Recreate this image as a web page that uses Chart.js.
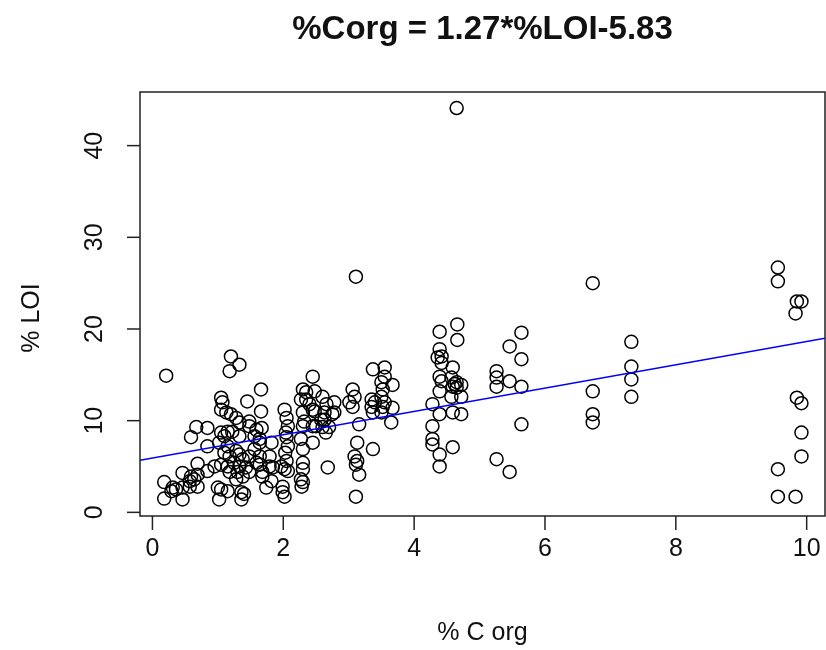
<!DOCTYPE html>
<html>
<head>
<meta charset="utf-8">
<script src="https://cdn.jsdelivr.net/npm/chart.js@4"></script>
<style>
  body { margin: 0; background: #fff; }
  #wrap { width: 826px; height: 650px; }
</style>
</head>
<body>
<div id="wrap"><canvas id="scatterChart" width="826" height="650"></canvas></div>
<script>
// =========================
// DATA
// =========================
const corg = [
  0.21, 0.18, 0.18, 0.29, 0.31, 0.36, 0.46, 0.46, 0.46, 0.57, 0.57, 0.59, 0.59, 0.64, 0.67, 0.69, 0.69, 0.69, 0.84, 0.84, 0.84, 0.95,
  1.02, 1.00, 1.05, 1.15, 1.02, 1.05, 1.10, 1.15, 1.22, 1.15, 1.05, 1.07, 1.05, 1.13, 1.20, 1.28, 1.33, 1.20, 1.33, 1.18, 1.33,
  1.10, 1.18, 1.28, 1.33, 1.38, 1.25, 1.15, 1.05, 1.33, 1.43, 1.30, 1.18, 1.38, 1.48, 1.28, 1.36, 1.36, 1.40, 1.45, 1.48, 1.48, 1.48,
  1.56, 1.59, 1.64, 1.56, 1.64, 1.59, 1.79, 1.79, 1.68, 1.82, 1.74, 1.68, 1.66, 1.66, 1.67, 1.64, 1.82, 1.64, 1.84,
  2.02, 2.05, 2.07, 2.04, 2.05, 2.07, 2.03, 2.05, 1.97, 2.07, 2.02, 1.99, 1.99, 2.02,
  2.30, 2.35, 2.27, 2.45, 2.48, 2.40, 2.30, 2.30, 2.27, 2.30, 2.45, 2.45, 2.30, 2.30, 2.27, 2.30, 2.28, 2.35, 2.32, 2.45,
  2.48, 2.50, 2.58, 2.60, 2.65, 2.60, 2.66, 2.78, 2.75, 2.70, 2.68, 2.78, 2.63, 2.63,
  3.11, 3.06, 3.09, 3.01, 3.06, 3.16, 3.13, 3.09, 3.13, 3.11, 3.16, 3.11, 3.37, 3.55, 3.55, 3.50, 3.52, 3.67, 3.35, 3.35,
  3.37, 3.50, 3.52, 3.50, 3.67, 3.65, 3.37, 3.40, 3.55,
  4.65, 4.39, 4.66, 4.66, 4.39, 4.42, 4.36, 4.42, 4.59, 4.39, 4.42, 4.57, 4.65, 4.72, 4.59, 4.65, 4.39, 4.57, 4.72, 4.28,
  4.39, 4.59, 4.72, 4.28, 4.28, 4.28, 4.39, 4.59, 4.39, 4.62,
  5.26, 5.26, 5.26, 5.46, 5.64, 5.46, 5.64, 5.64, 5.64, 5.26, 5.46,
  6.73, 6.73, 6.73, 6.73, 7.32, 7.32, 7.32, 7.32,
  9.56, 9.56, 9.85, 9.92, 9.83, 9.85, 9.92, 9.92, 9.92, 9.56, 9.56, 9.83
];
const loi = [
  14.9, 3.3, 1.5, 2.3, 2.7, 2.5, 2.7, 1.4, 4.3, 2.8, 3.4, 3.9, 8.2, 3.6, 9.3, 5.3, 4.1, 2.8, 9.2, 7.2, 4.5, 5.0,
  1.4, 2.7, 2.5, 2.3, 7.6, 8.7, 8.3, 8.8, 8.8, 7.2, 12.5, 12.0, 11.2, 10.9, 10.7, 10.3, 9.8, 17.0, 16.1, 15.4, 8.3,
  6.5, 6.1, 6.7, 6.3, 5.8, 5.4, 5.0, 5.2, 5.0, 4.9, 4.4, 4.4, 3.9, 4.4, 3.6, 2.2, 1.4, 2.0, 12.1, 9.9, 9.4, 6.1,
  8.3, 9.0, 8.0, 6.9, 6.1, 5.4, 6.1, 5.0, 4.4, 3.4, 2.7, 3.9, 13.4, 11.0, 9.2, 7.6, 7.6, 5.2, 4.9,
  11.2, 10.3, 9.4, 8.7, 8.2, 7.2, 6.5, 5.6, 5.0, 4.5, 4.7, 2.8, 2.2, 1.7,
  13.4, 12.3, 12.3, 14.8, 13.2, 11.8, 10.9, 9.4, 8.0, 6.9, 11.2, 9.4, 5.4, 4.7, 3.6, 3.3, 2.8, 13.1, 9.9, 7.6,
  11.0, 9.4, 10.1, 9.3, 8.7, 12.6, 11.8, 12.0, 10.7, 9.3, 4.9, 10.9, 10.9, 10.1,
  25.7, 13.4, 12.6, 12.0, 11.5, 9.6, 7.6, 6.1, 5.6, 5.2, 4.1, 1.7, 15.6, 15.8, 14.8, 14.2, 13.4, 13.9, 12.3, 11.5,
  10.9, 12.6, 11.5, 10.9, 11.4, 9.8, 6.9, 12.0, 12.0,
  44.1, 19.7, 20.5, 18.8, 17.8, 17.0, 16.9, 16.3, 15.8, 14.8, 14.3, 14.7, 14.2, 13.9, 13.7, 13.6, 13.2, 12.6, 12.6, 11.8,
  10.7, 10.9, 10.7, 9.4, 8.0, 7.4, 6.3, 7.1, 5.0, 14.0,
  15.4, 14.7, 13.7, 14.3, 19.6, 18.1, 16.7, 13.7, 9.6, 5.8, 4.4,
  25.0, 13.2, 10.7, 9.8, 18.6, 15.9, 14.5, 12.6,
  26.7, 25.2, 23.0, 23.0, 21.7, 12.5, 11.9, 8.7, 6.1, 4.7, 1.7, 1.7
];

// tick labels
const xTicks = [0, 2, 4, 6, 8, 10];
const yTicks = [0, 10, 20, 30, 40];

// fitted line (abline)
const fitIntercept = 5.93;
const fitSlope = 1.27;

const titleText = '%Corg = 1.27*%LOI-5.83';
const xTitle = '% C org';
const yTitle = '% LOI';

// axis limits (R style 4% padding)
const X_MIN = -0.19, X_MAX = 10.28;
const Y_MIN = -0.4, Y_MAX = 45.85;

const points = corg.map((x, i) => ({ x: x, y: loi[i] }));
const fitLine = [X_MIN, X_MAX].map(x => ({ x: x, y: fitIntercept + fitSlope * x }));

const FONT = '"Liberation Sans", Arial, Helvetica, sans-serif';

// =========================
// R-STYLE AXES / BOX / TITLES
// =========================
const rAxes = {
  id: 'rAxes',
  afterDraw(chart) {
    const ctx = chart.ctx;
    const a = chart.chartArea;
    const xs = chart.scales.x;
    const ys = chart.scales.y;
    ctx.save();
    ctx.strokeStyle = '#222';
    ctx.fillStyle = '#111';
    ctx.lineWidth = 1.5;

    // box
    ctx.strokeRect(a.left, a.top, a.right - a.left, a.bottom - a.top);

    // x axis ticks + labels
    ctx.font = '25px ' + FONT;
    ctx.textAlign = 'center';
    ctx.textBaseline = 'middle';
    xTicks.forEach(v => {
      const px = xs.getPixelForValue(v);
      ctx.beginPath();
      ctx.moveTo(px, a.bottom);
      ctx.lineTo(px, a.bottom + 14);
      ctx.stroke();
      ctx.fillText(String(v), px, a.bottom + 33);
    });

    // y axis ticks + rotated labels
    yTicks.forEach(v => {
      const py = ys.getPixelForValue(v);
      ctx.beginPath();
      ctx.moveTo(a.left, py);
      ctx.lineTo(a.left - 13, py);
      ctx.stroke();
      ctx.save();
      ctx.translate(a.left - 45, py);
      ctx.rotate(-Math.PI / 2);
      ctx.fillText(String(v), 0, 0);
      ctx.restore();
    });

    // axis titles
    ctx.fillText(xTitle, (a.left + a.right) / 2, 633);
    ctx.save();
    ctx.translate(32, (a.top + a.bottom) / 2 + 14);
    ctx.rotate(-Math.PI / 2);
    ctx.fillText(yTitle, 0, 0);
    ctx.restore();

    // main title
    ctx.font = 'bold 33px ' + FONT;
    ctx.fillText(titleText, (a.left + a.right) / 2, 30);
    ctx.restore();
  }
};

// =========================
// CHART
// =========================
const ctx = document.getElementById('scatterChart').getContext('2d');

new Chart(ctx, {
  type: 'scatter',
  data: {
    datasets: [
      {
        type: 'line',
        label: 'fit',
        data: fitLine,
        borderColor: '#0000ff',
        borderWidth: 1.5,
        pointRadius: 0,
        fill: false
      },
      {
        label: 'samples',
        data: points,
        pointStyle: 'circle',
        pointRadius: 6.5,
        borderWidth: 1.5,
        borderColor: '#000',
        backgroundColor: 'rgba(0,0,0,0)'
      }
    ]
  },
  options: {
    responsive: false,
    animation: false,
    layout: { autoPadding: false, padding: { left: 140, top: 92, right: 1, bottom: 134 } },
    scales: {
      x: { type: 'linear', min: X_MIN, max: X_MAX, display: false },
      y: { type: 'linear', min: Y_MIN, max: Y_MAX, display: false }
    },
    plugins: {
      legend: { display: false },
      tooltip: { enabled: false }
    }
  },
  plugins: [rAxes]
});
</script>
</body>
</html>
